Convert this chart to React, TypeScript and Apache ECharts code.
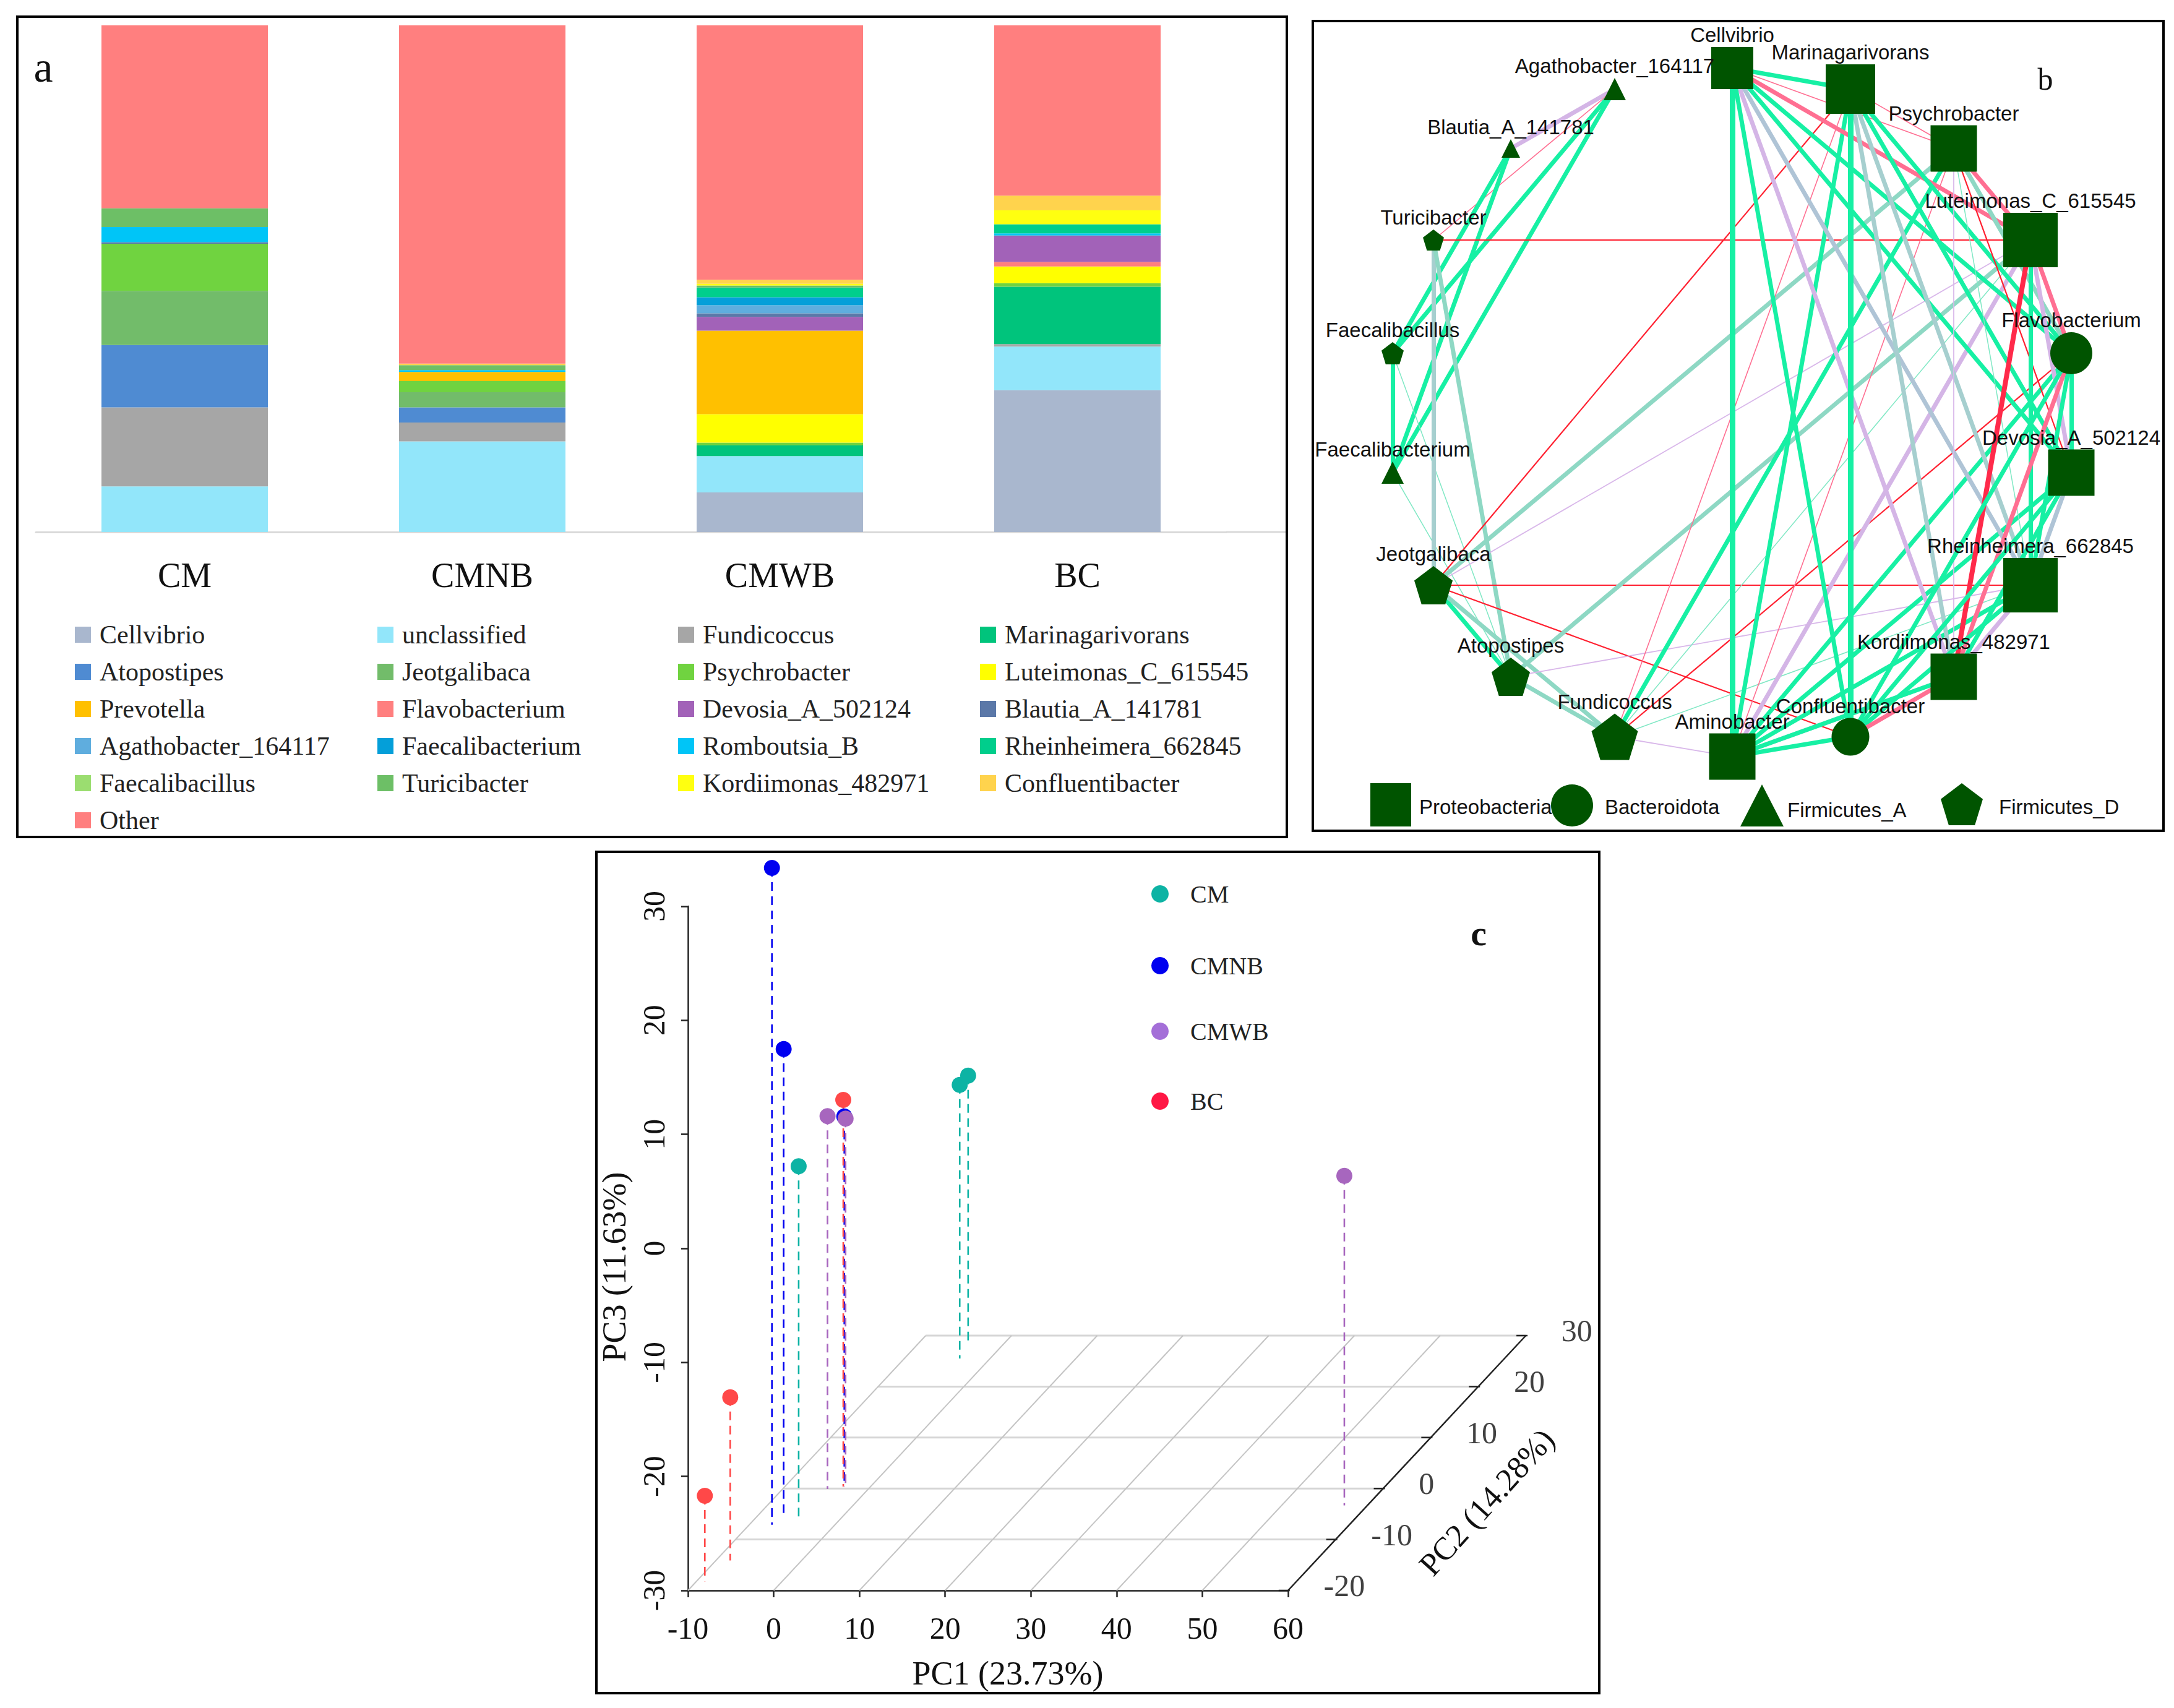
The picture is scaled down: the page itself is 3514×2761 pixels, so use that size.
import React, { useEffect, useRef } from "react";
import * as echarts from "echarts";

const SERIF = "Liberation Serif";
const SANS = "Liberation Sans";

/* ---------- panel a ---------- */
const groups = ["CM", "CMNB", "CMWB", "BC"];
const cellvibrio = [0, 0, 7.8, 28];
const unclassified = [9, 17.9, 7.2, 8.6];
const fundicoccus = [15.6, 3.7, 0, 0.5];
const marinagarivorans = [0, 0, 2.1, 11.3];
const atopostipes = [12.3, 3, 0, 0];
const jeotgalibaca = [10.7, 3, 0, 0];
const psychrobacter = [9.3, 2.2, 0.55, 0.7];
const luteimonas = [0, 0, 5.6, 3.3];
const prevotella = [0, 1.8, 16.5, 0];
const flavobacterium = [0, 0, 0, 0.9];
const devosia = [0, 0, 2.7, 5.05];
const blautia = [0.3, 0, 0.7, 0.2];
const agathobacter = [0, 0, 1.6, 0];
const faecalibacterium = [0, 0, 1.6, 0];
const romboutsia = [3, 0.35, 0, 0.4];
const rheinheimera = [0, 0, 1.9, 1.8];
const faecalibacillus = [0, 0, 0, 0];
const turicibacter = [3.7, 1, 0.4, 0];
const kordiimonas = [0, 0, 0.35, 2.75];
const confluentibacter = [0, 0.3, 0.8, 2.9];
const other = [36.1, 66.75, 50.2, 33.6];

const stackSeries: [string, string, number[]][] = [
  ["Cellvibrio", "#A9B7CE", cellvibrio],
  ["unclassified", "#92E6FA", unclassified],
  ["Fundicoccus", "#A6A6A6", fundicoccus],
  ["Marinagarivorans", "#00C47C", marinagarivorans],
  ["Atopostipes", "#4F8BD2", atopostipes],
  ["Jeotgalibaca", "#72BC6A", jeotgalibaca],
  ["Psychrobacter", "#70D340", psychrobacter],
  ["Luteimonas_C_615545", "#FFFF00", luteimonas],
  ["Prevotella", "#FFC000", prevotella],
  ["Flavobacterium", "#FF7F7F", flavobacterium],
  ["Devosia_A_502124", "#A262B8", devosia],
  ["Blautia_A_141781", "#5B78A8", blautia],
  ["Agathobacter_164117", "#5FADDE", agathobacter],
  ["Faecalibacterium", "#049FD9", faecalibacterium],
  ["Romboutsia_B", "#00C5F7", romboutsia],
  ["Rheinheimera_662845", "#00CE8C", rheinheimera],
  ["Faecalibacillus", "#9BDD70", faecalibacillus],
  ["Turicibacter", "#6DBF66", turicibacter],
  ["Kordiimonas_482971", "#FFFF10", kordiimonas],
  ["Confluentibacter", "#FFD34D", confluentibacter],
  ["Other", "#FF7F7F", other],
];

const legendColumns: [number, string[]][] = [
  [121, ["Cellvibrio", "Atopostipes", "Prevotella", "Agathobacter_164117", "Faecalibacillus", "Other"]],
  [610, ["unclassified", "Jeotgalibaca", "Flavobacterium", "Faecalibacterium", "Turicibacter"]],
  [1096, ["Fundicoccus", "Psychrobacter", "Devosia_A_502124", "Romboutsia_B", "Kordiimonas_482971"]],
  [1584, ["Marinagarivorans", "Luteimonas_C_615545", "Blautia_A_141781", "Rheinheimera_662845", "Confluentibacter"]],
];

/* ---------- panel b ---------- */
const PENTAGON = "path://M50 0 L100 38 L81 100 L19 100 L0 38 Z";
const phyla = ["Proteobacteria", "Bacteroidota", "Firmicutes_A", "Firmicutes_D"];
const phylumIcon = ["rect", "circle", "triangle", PENTAGON];
// name, x, y, phylum index, symbol size (positions, in page pixels)
const nodes: [string, number, number, number, number][] = [
  ["Cellvibrio", 2800, 110, 0, 68],
  ["Marinagarivorans", 2991, 144, 0, 80],
  ["Psychrobacter", 3158, 240, 0, 75],
  ["Luteimonas_C_615545", 3282, 388, 0, 88],
  ["Flavobacterium", 3348, 571, 1, 68],
  ["Devosia_A_502124", 3348, 764, 0, 75],
  ["Rheinheimera_662845", 3282, 946, 0, 88],
  ["Kordiimonas_482971", 3158, 1094, 0, 75],
  ["Confluentibacter", 2991, 1191, 1, 61],
  ["Aminobacter", 2800, 1223, 0, 75],
  ["Fundicoccus", 2610, 1191, 3, 75],
  ["Atopostipes", 2442, 1094, 3, 62],
  ["Jeotgalibaca", 2317, 946, 3, 62],
  ["Faecalibacterium", 2251, 764, 2, 36],
  ["Faecalibacillus", 2251, 571, 3, 36],
  ["Turicibacter", 2317, 388, 3, 34],
  ["Blautia_A_141781", 2442, 240, 2, 30],
  ["Agathobacter_164117", 2610, 144, 2, 36],
];
const edgeStyles: Record<string, { color: string; width: number }> = {
  g: { color: "#17F0A4", width: 7 },
  G: { color: "#17F0A4", width: 9 },
  t: { color: "#8ED8C4", width: 7 },
  s: { color: "#A6CFCF", width: 7 },
  b: { color: "#AFC4D6", width: 7 },
  l: { color: "#D4B5E6", width: 7 },
  k: { color: "#FF6F92", width: 7 },
  R: { color: "#FF2A4A", width: 8 },
  r: { color: "#FF2030", width: 2.2 },
  p: { color: "#FF6F92", width: 1.6 },
  v: { color: "#D9B8EA", width: 1.8 },
  q: { color: "#7FE8C4", width: 1.5 },
};
const edges: [string, string, string][] = [
  ["Agathobacter_164117", "Blautia_A_141781", "l"],
  ["Agathobacter_164117", "Turicibacter", "p"],
  ["Agathobacter_164117", "Faecalibacillus", "g"],
  ["Agathobacter_164117", "Faecalibacterium", "g"],
  ["Blautia_A_141781", "Faecalibacillus", "g"],
  ["Blautia_A_141781", "Faecalibacterium", "g"],
  ["Faecalibacillus", "Faecalibacterium", "g"],
  ["Faecalibacillus", "Atopostipes", "q"],
  ["Faecalibacterium", "Atopostipes", "q"],
  ["Turicibacter", "Jeotgalibaca", "s"],
  ["Turicibacter", "Atopostipes", "t"],
  ["Turicibacter", "Luteimonas_C_615545", "r"],
  ["Jeotgalibaca", "Rheinheimera_662845", "r"],
  ["Jeotgalibaca", "Confluentibacter", "r"],
  ["Jeotgalibaca", "Marinagarivorans", "r"],
  ["Jeotgalibaca", "Psychrobacter", "t"],
  ["Jeotgalibaca", "Luteimonas_C_615545", "v"],
  ["Jeotgalibaca", "Atopostipes", "g"],
  ["Jeotgalibaca", "Fundicoccus", "t"],
  ["Atopostipes", "Fundicoccus", "t"],
  ["Atopostipes", "Luteimonas_C_615545", "t"],
  ["Atopostipes", "Rheinheimera_662845", "v"],
  ["Fundicoccus", "Psychrobacter", "g"],
  ["Fundicoccus", "Luteimonas_C_615545", "q"],
  ["Fundicoccus", "Marinagarivorans", "p"],
  ["Fundicoccus", "Aminobacter", "v"],
  ["Fundicoccus", "Flavobacterium", "r"],
  ["Fundicoccus", "Rheinheimera_662845", "q"],
  ["Aminobacter", "Cellvibrio", "G"],
  ["Aminobacter", "Marinagarivorans", "g"],
  ["Aminobacter", "Psychrobacter", "p"],
  ["Aminobacter", "Luteimonas_C_615545", "l"],
  ["Aminobacter", "Flavobacterium", "g"],
  ["Aminobacter", "Devosia_A_502124", "g"],
  ["Aminobacter", "Rheinheimera_662845", "g"],
  ["Aminobacter", "Kordiimonas_482971", "b"],
  ["Aminobacter", "Confluentibacter", "g"],
  ["Cellvibrio", "Marinagarivorans", "g"],
  ["Cellvibrio", "Psychrobacter", "p"],
  ["Cellvibrio", "Luteimonas_C_615545", "k"],
  ["Cellvibrio", "Flavobacterium", "g"],
  ["Cellvibrio", "Devosia_A_502124", "g"],
  ["Cellvibrio", "Kordiimonas_482971", "l"],
  ["Cellvibrio", "Rheinheimera_662845", "b"],
  ["Cellvibrio", "Confluentibacter", "g"],
  ["Marinagarivorans", "Psychrobacter", "p"],
  ["Marinagarivorans", "Flavobacterium", "g"],
  ["Marinagarivorans", "Devosia_A_502124", "g"],
  ["Marinagarivorans", "Rheinheimera_662845", "s"],
  ["Marinagarivorans", "Kordiimonas_482971", "s"],
  ["Marinagarivorans", "Confluentibacter", "G"],
  ["Psychrobacter", "Luteimonas_C_615545", "k"],
  ["Psychrobacter", "Devosia_A_502124", "r"],
  ["Psychrobacter", "Kordiimonas_482971", "v"],
  ["Psychrobacter", "Rheinheimera_662845", "q"],
  ["Psychrobacter", "Flavobacterium", "t"],
  ["Luteimonas_C_615545", "Flavobacterium", "k"],
  ["Luteimonas_C_615545", "Rheinheimera_662845", "g"],
  ["Luteimonas_C_615545", "Kordiimonas_482971", "R"],
  ["Luteimonas_C_615545", "Devosia_A_502124", "l"],
  ["Flavobacterium", "Devosia_A_502124", "g"],
  ["Flavobacterium", "Rheinheimera_662845", "g"],
  ["Flavobacterium", "Kordiimonas_482971", "k"],
  ["Flavobacterium", "Confluentibacter", "g"],
  ["Devosia_A_502124", "Rheinheimera_662845", "b"],
  ["Devosia_A_502124", "Kordiimonas_482971", "g"],
  ["Devosia_A_502124", "Confluentibacter", "g"],
  ["Rheinheimera_662845", "Kordiimonas_482971", "l"],
  ["Rheinheimera_662845", "Confluentibacter", "g"],
  ["Kordiimonas_482971", "Confluentibacter", "k"],
  ["Kordiimonas_482971", "Aminobacter", "g"],
];
const phylumLegend: [number, number, number, number, number, number][] = [
  // left, top, icon width, icon height, gap before text, downward shift of text x 2
  [2215, 1266, 66, 70, 8, 6],
  [2507, 1268, 70, 68, 13, 4],
  [2813, 1268, 70, 68, 1, 14],
  [3137, 1266, 68, 68, 21, 8],
];

/* ---------- panel c ---------- */
const pcaGroups = ["CM", "CMNB", "CMWB", "BC"];
const pcaColors = ["#0DB3A4", "#0000F0", "#A766BE", "#FF4848"];
const pcaLegendColors = ["#0DB3A4", "#0000F0", "#A46FD8", "#FF1744"];
const pcaLegendCenters = [1445, 1561, 1667, 1780];
const stemOrder = [1, 3, 0, 2];
// [PC1, PC2, PC3]
const cmPoints = [[-5.13, -5.5, 0.72], [-3.54, 25.5, -6.0], [-4.0, 28.1, -6.35]];
const cmnbPoints = [[-7.36, -7.1, 27.6], [-6.88, -5.5, 11.0], [-3.08, 0.4, 2.45]];
const cmwbPoints = [[-4.76, -0.1, 2.7], [-2.93, 0.4, 2.26], [57.3, -3.3, -1.1]];
const bcPoints = [[-9.03, -18.2, -22.5], [-8.34, -14.1, -15.7], [-3.2, 0.4, 3.9]];
const pcaPoints = [cmPoints, cmnbPoints, cmwbPoints, bcPoints];
const pc1Ticks = [-10, 0, 10, 20, 30, 40, 50, 60];
const pc2Ticks = [-20, -10, 0, 10, 20, 30];
const pc3Floor = -30;
const PC2_DX = 0.5547;
const PC2_DY = 0.447;
const project = (pc1: number, pc2: number, pc3: number) => [
  pc1 + (pc2 + 20) * PC2_DX,
  pc3 + (pc2 + 20) * PC2_DY,
];

function buildOption() {
  const series: any[] = [];

  /* panel a bars */
  stackSeries.forEach(([name, color, values]) => {
    series.push({
      type: "bar",
      name,
      stack: "genus",
      xAxisIndex: 0,
      yAxisIndex: 0,
      barWidth: 269,
      data: values,
      itemStyle: { color },
      silent: true,
    });
  });

  /* panel b network */
  series.push({
    type: "graph",
    name: "network",
    layout: "none",
    coordinateSystem: "cartesian2d",
    xAxisIndex: 1,
    yAxisIndex: 1,
    roam: false,
    silent: true,
    categories: phyla.map((name, i) => ({ name, symbol: phylumIcon[i], itemStyle: { color: "#005400" } })),
    data: nodes.map(([name, x, y, phylum, size]) => ({
      name,
      value: [x, y],
      category: phylum,
      symbol: phylumIcon[phylum],
      symbolSize: size,
      itemStyle: { color: "#005400" },
      label: {
        show: true,
        position: "top",
        distance: 3,
        fontFamily: SANS,
        fontSize: 33,
        color: "#111",
      },
    })),
    links: edges.map(([source, target, kind]) => ({
      source,
      target,
      lineStyle: { color: edgeStyles[kind].color, width: edgeStyles[kind].width, opacity: 1, curveness: 0 },
    })),
  });

  /* panel c: line segments as [x1, y1, x2, y2] drawn through the axes */
  const axisRefs = { xAxisIndex: 2, yAxisIndex: 2 };
  const segments = (name: string, data: number[][], color: string, width: number, z = 2, dash?: number[]) => ({
    type: "custom",
    name,
    ...axisRefs,
    silent: true,
    z,
    data,
    encode: { x: [0, 2], y: [1, 3] },
    renderItem: (_: any, api: any) => {
      const a = api.coord([api.value(0), api.value(1)]);
      const b = api.coord([api.value(2), api.value(3)]);
      return {
        type: "line",
        shape: { x1: a[0], y1: a[1], x2: b[0], y2: b[1] },
        style: { stroke: color, lineWidth: width, lineDash: dash, fill: null },
      };
    },
  });
  const seg = (a: number[], b: number[]) => [a[0], a[1], b[0], b[1]];
  series.push(
    segments(
      "floor-pc2",
      pc2Ticks.slice(1).map((p) => seg(project(-10, p, pc3Floor), project(60, p, pc3Floor))),
      "#D6D6D6",
      3
    )
  );
  series.push(
    segments(
      "floor-pc1",
      pc1Ticks.slice(0, -1).map((x) => seg(project(x, -20, pc3Floor), project(x, 30, pc3Floor))),
      "#C4C4C4",
      2
    )
  );
  series.push(segments("pc2-axis", [seg(project(60, -20, pc3Floor), project(60, 30, pc3Floor))], "#222", 2.5, 3));
  series.push(
    segments(
      "pc2-ticks",
      pc2Ticks.map((p) => {
        const a = project(60, p, pc3Floor);
        return seg([a[0] - 1.1, a[1]], [a[0] + 0.2, a[1]]);
      }),
      "#222",
      2.5,
      3
    )
  );
  series.push({
    type: "scatter",
    name: "pc2-labels",
    ...axisRefs,
    clip: false,
    silent: true,
    symbolSize: 1,
    itemStyle: { color: "transparent" },
    data: pc2Ticks.map((p) => [...project(60, p, pc3Floor), p]),
    label: {
      show: true,
      position: "right",
      distance: 57,
      offset: [0, -8],
      fontFamily: SERIF,
      fontSize: 50,
      color: "#111",
      formatter: (v: any) => String(v.value[2]),
    },
  });

  /* panel c stems and points */
  stemOrder.forEach((i, k) => {
    series.push(
      segments(
        pcaGroups[i] + " stems",
        pcaPoints[i].map(([a, b, c]) => seg(project(a, b, c), project(a, b, pc3Floor))),
        pcaColors[i],
        2.6,
        4 + k * 0.1,
        [14, 9]
      )
    );
  });
  pcaGroups.forEach((name, i) => {
    series.push({
      type: "scatter",
      name,
      ...axisRefs,
      clip: false,
      silent: true,
      z: 5,
      symbolSize: 26,
      itemStyle: { color: pcaColors[i], opacity: 1 },
      data: pcaPoints[i].map(([a, b, c]) => project(a, b, c)),
    });
  });

  /* legends */
  const legend: any[] = [];
  legendColumns.forEach(([left, names]) => {
    legend.push({
      orient: "vertical",
      left,
      top: 1004,
      padding: 0,
      itemWidth: 26,
      itemHeight: 26,
      itemGap: 16,
      icon: "rect",
      selectedMode: false,
      textStyle: { fontFamily: SERIF, fontSize: 42, lineHeight: 44, color: "#222", padding: [0, 0, 0, 9] },
      data: names,
    });
  });
  phyla.forEach((name, i) => {
    const [left, top, w, h, gap, shift] = phylumLegend[i];
    legend.push({
      left,
      top,
      padding: 0,
      itemWidth: w,
      itemHeight: h,
      selectedMode: false,
      formatter: (n: string) => "\n" + n,
      textStyle: { fontFamily: SANS, fontSize: 33, lineHeight: shift, color: "#111", padding: [0, 0, 0, gap] },
      data: [{ name, icon: phylumIcon[i], itemStyle: { color: "#005400" } }],
    });
  });
  pcaGroups.forEach((name, i) => {
    legend.push({
      left: 1861,
      top: pcaLegendCenters[i] - 20,
      padding: 0,
      itemWidth: 28,
      itemHeight: 28,
      selectedMode: false,
      textStyle: { fontFamily: SERIF, fontSize: 40, lineHeight: 40, color: "#222", padding: [0, 0, 0, 30] },
      data: [{ name, icon: "circle", itemStyle: { color: pcaLegendColors[i] } }],
    });
  });

  const frame = (x: number, y: number, width: number, height: number) => ({
    type: "rect",
    shape: { x, y, width, height },
    style: { fill: "transparent", stroke: "#000", lineWidth: 4 },
    silent: true,
    z: 100,
  });
  const letter = (text: string, x: number, y: number, fontSize: number, fontWeight = "normal") => ({
    type: "text",
    x,
    y,
    silent: true,
    z: 100,
    style: { text, fontFamily: SERIF, fontSize, fontWeight, fill: "#111", textAlign: "center", textVerticalAlign: "middle" },
  });

  return {
    animation: false,
    backgroundColor: "#fff",
    textStyle: { fontFamily: SERIF },
    grid: [
      { left: 58, top: 41, width: 1924, height: 819 },
      { left: 2122, top: 34, width: 1375, height: 1309 },
      { left: 1112, top: 1465, width: 970, height: 1106 },
    ],
    xAxis: [
      {
        gridIndex: 0,
        type: "category",
        data: groups,
        axisTick: { show: false },
        axisLine: { lineStyle: { color: "#D9D9D9", width: 3 } },
        axisLabel: { fontFamily: SERIF, fontSize: 56, color: "#111", margin: 42 },
      },
      { gridIndex: 1, type: "value", min: 2122, max: 3497, show: false },
      {
        gridIndex: 2,
        type: "value",
        min: -10,
        max: 60,
        interval: 10,
        splitLine: { show: false },
        axisLine: { onZero: false, lineStyle: { color: "#222", width: 2.5 } },
        axisTick: { length: 11, lineStyle: { color: "#222", width: 2.5 } },
        axisLabel: { fontFamily: SERIF, fontSize: 50, color: "#111", margin: 36 },
        name: "PC1 (23.73%)",
        nameLocation: "middle",
        nameGap: 107,
        nameTextStyle: { fontFamily: SERIF, fontSize: 54, color: "#111", padding: [0, 0, 0, 64] },
      },
    ],
    yAxis: [
      { gridIndex: 0, type: "value", min: 0, max: 100, show: false },
      { gridIndex: 1, type: "value", min: 34, max: 1343, inverse: true, show: false },
      {
        gridIndex: 2,
        type: "value",
        min: -30,
        max: 30,
        interval: 10,
        splitLine: { show: false },
        axisLine: { onZero: false, lineStyle: { color: "#222", width: 2.5 } },
        axisTick: { length: 11, lineStyle: { color: "#222", width: 2.5 } },
        axisLabel: { fontFamily: SERIF, fontSize: 50, color: "#111", margin: 30, rotate: 90 },
        name: "PC3 (11.63%)",
        nameLocation: "middle",
        nameGap: 92,
        nameTextStyle: { fontFamily: SERIF, fontSize: 54, color: "#111", padding: [0, 60, 0, 0] },
      },
    ],
    legend,
    series,
    graphic: [
      frame(28, 27, 2052, 1326),
      frame(2122, 34, 1375, 1309),
      frame(964, 1377, 1621, 1360),
      { type: "line", shape: { x1: 1982, y1: 860, x2: 2078, y2: 860 }, style: { stroke: "#D9D9D9", lineWidth: 3 }, silent: true },
      letter("a", 70, 108, 70),
      letter("b", 3306, 128, 50),
      letter("c", 2390, 1508, 58, "bold"),
      {
        type: "text",
        x: 2403,
        y: 2428,
        rotation: (48 * Math.PI) / 180,
        silent: true,
        style: { text: "PC2 (14.28%)", fontFamily: SERIF, fontSize: 52, fill: "#111", textAlign: "center", textVerticalAlign: "middle" },
      },
    ],
  };
}

export default function App() {
  const ref = useRef<HTMLDivElement>(null);
  useEffect(() => {
    document.body.style.margin = "0";
    const chart = echarts.init(ref.current!, undefined, { renderer: "svg" });
    chart.setOption(buildOption() as any);
    return () => chart.dispose();
  }, []);
  return <div ref={ref} style={{ width: 3514, height: 2761 }} />;
}
